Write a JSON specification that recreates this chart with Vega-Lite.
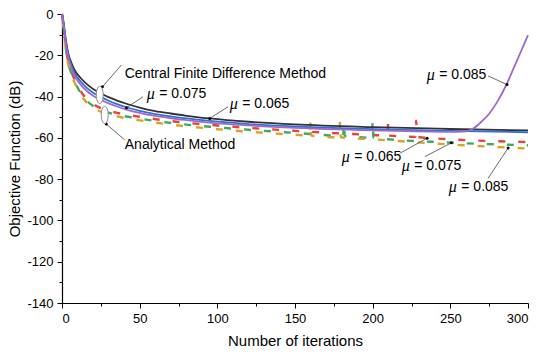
{
  "$schema": "https://vega.github.io/schema/vega-lite/v6.json",
  "width": 466,
  "height": 289,
  "autosize": {"type": "none"},
  "padding": {"left": 62, "top": 14, "right": 18, "bottom": 50},
  "background": "white",
  "config": {"view": {"stroke": null}, "font": "Liberation Sans"},
  "datasets": {
    "curves": [
      {"s":"CFD 0.065","x":0,"y":0},{"s":"CFD 0.065","x":1,"y":-4},{"s":"CFD 0.065","x":2,"y":-10},{"s":"CFD 0.065","x":3,"y":-15},{"s":"CFD 0.065","x":4,"y":-19},{"s":"CFD 0.065","x":6,"y":-23.5},{"s":"CFD 0.065","x":8,"y":-27},{"s":"CFD 0.065","x":12,"y":-31},{"s":"CFD 0.065","x":16,"y":-34},{"s":"CFD 0.065","x":20,"y":-36.3},{"s":"CFD 0.065","x":24,"y":-38},{"s":"CFD 0.065","x":30,"y":-40.3},{"s":"CFD 0.065","x":35,"y":-41.8},{"s":"CFD 0.065","x":42,"y":-43.6},{"s":"CFD 0.065","x":50,"y":-45.3},{"s":"CFD 0.065","x":60,"y":-47},{"s":"CFD 0.065","x":70,"y":-48.2},{"s":"CFD 0.065","x":80,"y":-49.3},{"s":"CFD 0.065","x":95,"y":-50.6},{"s":"CFD 0.065","x":120,"y":-52.2},{"s":"CFD 0.065","x":150,"y":-53.5},{"s":"CFD 0.065","x":200,"y":-54.8},{"s":"CFD 0.065","x":250,"y":-55.7},{"s":"CFD 0.065","x":300,"y":-56.4},
      {"s":"CFD 0.075","x":0,"y":0},{"s":"CFD 0.075","x":1,"y":-4.5},{"s":"CFD 0.075","x":2,"y":-10.8},{"s":"CFD 0.075","x":3,"y":-16},{"s":"CFD 0.075","x":4,"y":-20},{"s":"CFD 0.075","x":6,"y":-24.8},{"s":"CFD 0.075","x":8,"y":-28.5},{"s":"CFD 0.075","x":12,"y":-32.7},{"s":"CFD 0.075","x":16,"y":-35.8},{"s":"CFD 0.075","x":20,"y":-38.1},{"s":"CFD 0.075","x":24,"y":-39.8},{"s":"CFD 0.075","x":30,"y":-42},{"s":"CFD 0.075","x":35,"y":-43.5},{"s":"CFD 0.075","x":42,"y":-45.3},{"s":"CFD 0.075","x":50,"y":-46.9},{"s":"CFD 0.075","x":60,"y":-48.5},{"s":"CFD 0.075","x":70,"y":-49.6},{"s":"CFD 0.075","x":80,"y":-50.6},{"s":"CFD 0.075","x":95,"y":-51.8},{"s":"CFD 0.075","x":120,"y":-53.3},{"s":"CFD 0.075","x":150,"y":-54.5},{"s":"CFD 0.075","x":200,"y":-55.8},{"s":"CFD 0.075","x":250,"y":-56.6},{"s":"CFD 0.075","x":300,"y":-57.3},
      {"s":"CFD 0.085","x":0,"y":0},{"s":"CFD 0.085","x":1,"y":-5},{"s":"CFD 0.085","x":2,"y":-11.5},{"s":"CFD 0.085","x":3,"y":-17},{"s":"CFD 0.085","x":4,"y":-21},{"s":"CFD 0.085","x":6,"y":-26},{"s":"CFD 0.085","x":8,"y":-29.8},{"s":"CFD 0.085","x":12,"y":-34.2},{"s":"CFD 0.085","x":16,"y":-37.3},{"s":"CFD 0.085","x":20,"y":-39.6},{"s":"CFD 0.085","x":24,"y":-41.2},{"s":"CFD 0.085","x":30,"y":-43.3},{"s":"CFD 0.085","x":35,"y":-44.7},{"s":"CFD 0.085","x":42,"y":-46.4},{"s":"CFD 0.085","x":50,"y":-47.9},{"s":"CFD 0.085","x":60,"y":-49.4},{"s":"CFD 0.085","x":70,"y":-50.5},{"s":"CFD 0.085","x":80,"y":-51.4},{"s":"CFD 0.085","x":95,"y":-52.6},{"s":"CFD 0.085","x":120,"y":-54},{"s":"CFD 0.085","x":150,"y":-55.2},{"s":"CFD 0.085","x":200,"y":-56.4},{"s":"CFD 0.085","x":250,"y":-57.1},{"s":"CFD 0.085","x":258,"y":-57},{"s":"CFD 0.085","x":262,"y":-56.5},{"s":"CFD 0.085","x":265,"y":-55.4},{"s":"CFD 0.085","x":270,"y":-52.2},{"s":"CFD 0.085","x":275,"y":-48.3},{"s":"CFD 0.085","x":280,"y":-42.8},{"s":"CFD 0.085","x":286,"y":-34.4},{"s":"CFD 0.085","x":290,"y":-27.6},{"s":"CFD 0.085","x":295,"y":-18.9},{"s":"CFD 0.085","x":300,"y":-10.2},
      {"s":"AM 0.065","x":0,"y":0},{"s":"AM 0.065","x":1,"y":-6},{"s":"AM 0.065","x":2,"y":-13},{"s":"AM 0.065","x":3,"y":-19},{"s":"AM 0.065","x":4,"y":-23},{"s":"AM 0.065","x":6,"y":-28},{"s":"AM 0.065","x":8,"y":-31.5},{"s":"AM 0.065","x":11,"y":-36},{"s":"AM 0.065","x":14,"y":-39.5},{"s":"AM 0.065","x":18,"y":-42.5},{"s":"AM 0.065","x":22,"y":-44.5},{"s":"AM 0.065","x":27,"y":-46.2},{"s":"AM 0.065","x":35,"y":-47.8},{"s":"AM 0.065","x":50,"y":-49.8},{"s":"AM 0.065","x":75,"y":-52.3},{"s":"AM 0.065","x":100,"y":-54},{"s":"AM 0.065","x":150,"y":-56.6},{"s":"AM 0.065","x":200,"y":-58.6},{"s":"AM 0.065","x":209.5,"y":-58.9},{"s":"AM 0.065","x":210,"y":-53},{"s":"AM 0.065","x":210.5,"y":-58.9},{"s":"AM 0.065","x":227.5,"y":-59.5},{"s":"AM 0.065","x":228,"y":-51.7},{"s":"AM 0.065","x":228.5,"y":-59.5},{"s":"AM 0.065","x":250,"y":-60.7},{"s":"AM 0.065","x":300,"y":-62},
      {"s":"AM 0.075","x":0,"y":0},{"s":"AM 0.075","x":1,"y":-6.5},{"s":"AM 0.075","x":2,"y":-13.5},{"s":"AM 0.075","x":3,"y":-19.6},{"s":"AM 0.075","x":4,"y":-23.6},{"s":"AM 0.075","x":6,"y":-28.7},{"s":"AM 0.075","x":8,"y":-32.3},{"s":"AM 0.075","x":11,"y":-37},{"s":"AM 0.075","x":14,"y":-40.4},{"s":"AM 0.075","x":18,"y":-43.4},{"s":"AM 0.075","x":22,"y":-45.4},{"s":"AM 0.075","x":27,"y":-47.1},{"s":"AM 0.075","x":35,"y":-48.7},{"s":"AM 0.075","x":50,"y":-50.7},{"s":"AM 0.075","x":75,"y":-53.2},{"s":"AM 0.075","x":100,"y":-54.9},{"s":"AM 0.075","x":150,"y":-57.6},{"s":"AM 0.075","x":181,"y":-59},{"s":"AM 0.075","x":181.5,"y":-52.8},{"s":"AM 0.075","x":182,"y":-59.1},{"s":"AM 0.075","x":199.5,"y":-59.9},{"s":"AM 0.075","x":200,"y":-51.7},{"s":"AM 0.075","x":200.5,"y":-59.9},{"s":"AM 0.075","x":250,"y":-62.3},{"s":"AM 0.075","x":300,"y":-63.6},
      {"s":"AM 0.085","x":0,"y":0},{"s":"AM 0.085","x":1,"y":-7},{"s":"AM 0.085","x":2,"y":-14},{"s":"AM 0.085","x":3,"y":-20.2},{"s":"AM 0.085","x":4,"y":-24.2},{"s":"AM 0.085","x":6,"y":-29.4},{"s":"AM 0.085","x":8,"y":-33},{"s":"AM 0.085","x":11,"y":-37.8},{"s":"AM 0.085","x":14,"y":-41.2},{"s":"AM 0.085","x":18,"y":-44.2},{"s":"AM 0.085","x":22,"y":-46.2},{"s":"AM 0.085","x":27,"y":-47.9},{"s":"AM 0.085","x":35,"y":-49.5},{"s":"AM 0.085","x":50,"y":-51.5},{"s":"AM 0.085","x":75,"y":-54},{"s":"AM 0.085","x":100,"y":-55.8},{"s":"AM 0.085","x":150,"y":-58.5},{"s":"AM 0.085","x":159.5,"y":-58.9},{"s":"AM 0.085","x":160,"y":-51.7},{"s":"AM 0.085","x":160.5,"y":-58.9},{"s":"AM 0.085","x":178.5,"y":-59.7},{"s":"AM 0.085","x":179,"y":-52.2},{"s":"AM 0.085","x":179.5,"y":-59.7},{"s":"AM 0.085","x":200,"y":-60.7},{"s":"AM 0.085","x":250,"y":-63.2},{"s":"AM 0.085","x":287,"y":-64.7},{"s":"AM 0.085","x":300,"y":-65.2}
    ],
    "ellipses": [{"x":24.3,"y":-39.2},{"x":27.5,"y":-48.9}],
    "arrows": [
      {"x":38.3,"y":-24.7,"x2":26.0,"y2":-35.3},
      {"x":40.4,"y":-61.0,"x2":28.5,"y2":-53.3},
      {"x":52.2,"y":-40.1,"x2":41.5,"y2":-45.4},
      {"x":106.9,"y":-44.9,"x2":95.1,"y2":-50.6},
      {"x":274.3,"y":-30.0,"x2":286.5,"y2":-34.2},
      {"x":217.4,"y":-67.5,"x2":235.0,"y2":-60.2},
      {"x":233.6,"y":-69.1,"x2":250.7,"y2":-62.4},
      {"x":274.3,"y":-79.6,"x2":287.2,"y2":-64.9}
    ],
    "tips": [
      {"x":26.0,"y":-35.3},{"x":28.5,"y":-53.3},{"x":41.5,"y":-45.4},{"x":95.1,"y":-50.6},
      {"x":286.5,"y":-34.2},{"x":235.0,"y":-60.2},{"x":250.7,"y":-62.4},{"x":287.2,"y":-64.9}
    ],
    "mu": [
      {"x":54.5,"y":-38.8,"label":"= 0.075"},
      {"x":108.0,"y":-43.4,"label":"= 0.065"},
      {"x":234.8,"y":-29.6,"label":"= 0.085"},
      {"x":180.1,"y":-69.3,"label":"= 0.065"},
      {"x":218.7,"y":-73.6,"label":"= 0.075"},
      {"x":249.0,"y":-83.8,"label":"= 0.085"}
    ],
    "notes": [
      {"x":40.4,"y":-29.2,"label":"Central Finite Difference Method"},
      {"x":40.4,"y":-63.6,"label":"Analytical Method"}
    ]
  },
  "encoding": {
    "x": {
      "field": "x", "type": "quantitative",
      "scale": {"domain": [0, 300], "nice": false, "zero": false},
      "axis": {
        "values": [0,25,50,75,100,125,150,175,200,225,250,275,300],
        "labelExpr": "datum.value % 50 === 0 ? '' + datum.value : ''",
        "tickSize": {"condition": {"test": "datum.value % 50 === 0", "value": 5}, "value": 3},
        "grid": false, "domainColor": "black", "domainWidth": 1.2, "tickColor": "black", "tickWidth": 1,
        "labelFont": "Liberation Sans", "labelFontSize": 13, "labelColor": "black", "labelPadding": 4,
        "title": "Number of iterations", "titleFont": "Liberation Sans", "titleFontSize": 15,
        "titleFontWeight": "normal", "titleColor": "black", "titlePadding": 8
      }
    },
    "y": {
      "field": "y", "type": "quantitative",
      "scale": {"domain": [-140, 0], "nice": false, "zero": false},
      "axis": {
        "values": [0,-10,-20,-30,-40,-50,-60,-70,-80,-90,-100,-110,-120,-130,-140],
        "labelExpr": "datum.value % 20 === 0 ? '' + datum.value : ''",
        "tickSize": {"condition": {"test": "datum.value % 20 === 0", "value": 5}, "value": 3},
        "grid": false, "domainColor": "black", "domainWidth": 1.2, "tickColor": "black", "tickWidth": 1,
        "labelFont": "Liberation Sans", "labelFontSize": 13, "labelColor": "black", "labelPadding": 4,
        "title": "Objective Function (dB)", "titleFont": "Liberation Sans", "titleFontSize": 15,
        "titleFontWeight": "normal", "titleColor": "black", "titlePadding": 4
      }
    }
  },
  "layer": [
    {
      "data": {"name": "curves"},
      "transform": [{"filter": "datum.s === 'AM 0.065'"}],
      "mark": {"type": "line", "color": "#e8413a", "strokeWidth": 2.4, "strokeDash": [7, 13], "strokeDashOffset": 0, "interpolate": "monotone"},
      "encoding": {}
    },
    {
      "data": {"name": "curves"},
      "transform": [{"filter": "datum.s === 'AM 0.075'"}],
      "mark": {"type": "line", "color": "#3daa5c", "strokeWidth": 2.4, "strokeDash": [7, 13], "strokeDashOffset": 6.5, "interpolate": "monotone"},
      "encoding": {}
    },
    {
      "data": {"name": "curves"},
      "transform": [{"filter": "datum.s === 'AM 0.085'"}],
      "mark": {"type": "line", "color": "#d9a22a", "strokeWidth": 2.4, "strokeDash": [7, 13], "strokeDashOffset": 13, "interpolate": "monotone"},
      "encoding": {}
    },
    {
      "data": {"name": "curves"},
      "transform": [{"filter": "indexof(datum.s, 'CFD') === 0"}],
      "mark": {"type": "line", "strokeWidth": 1.8, "interpolate": "monotone"},
      "encoding": {
        "color": {"field": "s", "type": "nominal", "legend": null,
          "scale": {"domain": ["CFD 0.065", "CFD 0.075", "CFD 0.085"], "range": ["#333333", "#2f6fd6", "#9b6bc9"]}}
      }
    },
    {
      "data": {"name": "arrows"},
      "mark": {"type": "rule", "color": "#444444", "strokeWidth": 0.8},
      "encoding": {"x2": {"field": "x2"}, "y2": {"field": "y2"}}
    },
    {
      "data": {"name": "tips"},
      "mark": {"type": "point", "filled": true, "color": "black", "size": 9, "opacity": 1},
      "encoding": {}
    },
    {
      "data": {"name": "ellipses"},
      "mark": {"type": "point", "shape": "M0,-1A0.4,1,0,1,1,0,1A0.4,1,0,1,1,0,-1Z", "size": 300, "filled": true, "fill": "white", "stroke": "#888888", "strokeWidth": 1, "opacity": 1, "fillOpacity": 1},
      "encoding": {}
    },
    {
      "data": {"name": "mu"},
      "mark": {"type": "text", "text": "μ", "font": "Liberation Serif", "fontStyle": "italic", "fontSize": 16, "align": "left", "baseline": "middle", "color": "black"},
      "encoding": {}
    },
    {
      "data": {"name": "mu"},
      "mark": {"type": "text", "font": "Liberation Sans", "fontSize": 14, "align": "left", "baseline": "middle", "dx": 12.5, "color": "black"},
      "encoding": {"text": {"field": "label"}}
    },
    {
      "data": {"name": "notes"},
      "mark": {"type": "text", "font": "Liberation Sans", "fontSize": 14, "align": "left", "baseline": "middle", "color": "black"},
      "encoding": {"text": {"field": "label"}}
    }
  ]
}
